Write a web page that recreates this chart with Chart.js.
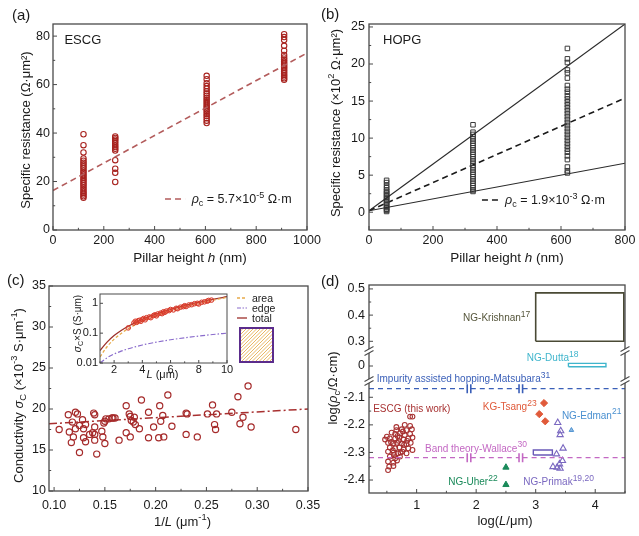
<!DOCTYPE html>
<html><head><meta charset="utf-8">
<script src="https://cdn.jsdelivr.net/npm/chart.js"></script>
<style>
html,body{margin:0;padding:0;background:#fff;width:639px;height:536px;overflow:hidden;}
canvas{position:absolute;}
</style></head><body>
<canvas id="ca" width="330" height="268" style="left:0;top:0;width:330px;height:268px"></canvas>
<canvas id="cb" width="319" height="268" style="left:320px;top:0;width:319px;height:268px"></canvas>
<canvas id="cc" width="330" height="268" style="left:0;top:268px;width:330px;height:268px"></canvas>
<canvas id="cd" width="319" height="268" style="left:320px;top:268px;width:319px;height:268px"></canvas>
<canvas id="ci" width="230" height="100" style="left:60px;top:285px;width:230px;height:100px"></canvas>
<script>
// ---------------- DATA ----------------
// (a) ESCG specific resistance vs pillar height
const escgHeights = [120, 245, 605, 910];
const escgRes120 = [39.5, 35.0, 32.0, 29.5, 28.6, 27.8, 27.0, 26.2, 25.5, 24.6, 23.8, 23.0, 22.3, 21.5, 20.7, 20.0, 19.2, 18.5, 17.6, 16.8, 16.0, 15.3, 14.6, 13.9, 13.3];
const escgRes245 = [38.6, 38.0, 37.3, 36.6, 35.8, 35.0, 34.2, 33.5, 32.8, 28.8, 25.3, 23.6, 19.8];
const escgRes605 = [63.6, 62.2, 60.6, 59.4, 58.3, 57.2, 56.3, 55.4, 54.5, 53.6, 52.8, 52.0, 51.2, 50.4, 49.6, 48.8, 47.9, 47.0, 46.1, 45.1, 44.1];
const escgRes910 = [80.8, 79.6, 78.4, 76.0, 74.0, 72.2, 71.2, 70.4, 69.6, 68.9, 68.2, 67.5, 66.8, 66.1, 65.4, 64.7, 64.0, 63.3, 62.6, 62.0];
const escgFitH = [0, 1000];
const escgFitR = [16.3, 73.0];
const aXTicks = [0, 200, 400, 600, 800, 1000];
const aXMinor = [100, 300, 500, 700, 900];
const aYTicks = [0, 20, 40, 60, 80];
const aYMinor = [10, 30, 50, 70];

// (b) HOPG
const hopgHeights = [55, 325, 620];
const hopgRes55 = [4.3, 4.0, 3.6, 3.3, 3.0, 2.8, 2.6, 2.4, 2.2, 2.0, 1.8, 1.6, 1.4, 1.2, 1.0, 0.8, 0.6, 0.4, 0.25, 0.1];
const hopgRes325 = [11.8, 10.8, 10.5, 10.2, 9.9, 9.6, 9.3, 9.0, 8.7, 8.4, 8.1, 7.8, 7.5, 7.2, 6.9, 6.6, 6.3, 6.0, 5.7, 5.4, 5.1, 4.8, 4.5, 4.2, 3.9, 3.6, 3.3, 3.0, 2.8];
const hopgRes620 = [22.1, 20.7, 20.2, 19.2, 18.8, 18.1, 17.1, 16.6, 16.2, 15.7, 15.3, 14.9, 14.5, 14.1, 13.7, 13.3, 12.9, 12.5, 12.1, 11.7, 11.3, 10.9, 10.5, 10.1, 9.7, 9.3, 8.9, 8.5, 8.1, 7.6, 7.1, 6.1, 5.6, 5.3];
const hopgFitH = [0, 800];
const hopgUpper = [0.2, 25.4];
const hopgMean = [0.2, 15.4];
const hopgLower = [0.2, 6.6];
const bXTicks = [0, 200, 400, 600, 800];
const bXMinor = [100, 300, 500, 700];
const bYTicks = [0, 5, 10, 15, 20, 25];
const bYMinor = [2.5, 7.5, 12.5, 17.5, 22.5];

// (c) conductivity vs 1/L
const cInvL = [0.105, 0.114, 0.115, 0.117, 0.118, 0.119, 0.121, 0.121, 0.123, 0.125, 0.125, 0.128, 0.129, 0.129, 0.131, 0.131, 0.135, 0.138, 0.139, 0.140, 0.140, 0.140, 0.140, 0.142, 0.147, 0.148, 0.149, 0.150, 0.150, 0.151, 0.154, 0.157, 0.158, 0.160, 0.164, 0.171, 0.171, 0.174, 0.175, 0.175, 0.176, 0.178, 0.179, 0.180, 0.184, 0.186, 0.193, 0.193, 0.198, 0.203, 0.204, 0.205, 0.207, 0.208, 0.212, 0.216, 0.230, 0.231, 0.230, 0.241, 0.251, 0.256, 0.258, 0.259, 0.260, 0.275, 0.281, 0.283, 0.286, 0.291, 0.294, 0.338];
const cSigma = [17.5, 19.3, 17.2, 15.9, 18.4, 16.6, 19.6, 17.6, 19.4, 14.7, 18.0, 18.7, 16.5, 17.6, 18.1, 16.0, 16.9, 17.1, 19.5, 19.3, 17.8, 16.9, 16.2, 14.5, 17.3, 16.6, 18.3, 18.5, 15.8, 18.8, 18.8, 18.9, 18.9, 18.9, 16.2, 20.4, 17.1, 19.4, 19.1, 16.6, 18.6, 18.4, 19.0, 18.1, 17.6, 21.1, 19.6, 16.5, 17.8, 16.5, 20.4, 18.5, 19.2, 16.6, 21.7, 17.9, 19.5, 19.4, 16.9, 16.6, 19.4, 20.5, 18.1, 17.5, 19.4, 19.6, 21.5, 18.2, 19.0, 22.8, 17.8, 17.5];
const cFitX = [0.095, 0.35];
const cFitY = [18.2, 20.0];
const cXTicks = [0.10, 0.15, 0.20, 0.25, 0.30, 0.35];
const cXMinor = [0.125, 0.175, 0.225, 0.275, 0.325];
const cYTicks = [10, 15, 20, 25, 30, 35];
const cYMinor = [12.5, 17.5, 22.5, 27.5, 32.5];

// (c) inset: sigma x S vs L
const insetCurveL = [1, 1.5, 2, 2.5, 3, 4, 5, 6, 7, 8, 9, 10];
const insetArea = [0.016, 0.035, 0.063, 0.098, 0.141, 0.25, 0.39, 0.56, 0.77, 1.0, 1.27, 1.57];
const insetEdge = [0.010, 0.015, 0.020, 0.025, 0.030, 0.040, 0.050, 0.060, 0.070, 0.080, 0.090, 0.100];
const insetTotal = [0.026, 0.050, 0.083, 0.123, 0.171, 0.29, 0.44, 0.62, 0.84, 1.08, 1.36, 1.67];
const insetPtL = [3.0, 3.4, 3.5, 3.6, 3.7, 3.8, 3.9, 4.0, 4.1, 4.2, 4.3, 4.5, 4.6, 4.8, 4.9, 5.0, 5.1, 5.3, 5.4, 5.5, 5.6, 5.7, 5.9, 6.0, 6.2, 6.4, 6.5, 6.7, 6.9, 7.0, 7.1, 7.3, 7.5, 7.7, 7.9, 8.0, 8.2, 8.4, 8.6, 8.7, 8.9];
const insetPtS = [0.15, 0.22, 0.25, 0.23, 0.26, 0.27, 0.25, 0.29, 0.31, 0.28, 0.33, 0.35, 0.33, 0.39, 0.41, 0.38, 0.44, 0.47, 0.45, 0.52, 0.50, 0.55, 0.57, 0.62, 0.60, 0.68, 0.66, 0.74, 0.77, 0.83, 0.78, 0.88, 0.90, 0.97, 1.00, 0.95, 1.08, 1.12, 1.18, 1.25, 1.28];
const iXTicks = [2, 4, 6, 8, 10];
const iXMinor = [1, 3, 5, 7, 9];
const iYTicks = [0.01, 0.1, 1];

// (d) log(rho) vs log(L)
const escgLogL = [0.89, 0.93, 0.80, 0.89, 0.66, 0.75, 0.83, 0.92, 0.58, 0.64, 0.72, 0.80, 0.89, 0.47, 0.50, 0.55, 0.64, 0.71, 0.78, 0.86, 0.93, 0.52, 0.61, 0.67, 0.75, 0.83, 0.90, 0.55, 0.64, 0.71, 0.78, 0.86, 0.93, 0.52, 0.61, 0.69, 0.76, 0.83, 0.55, 0.64, 0.72, 0.52, 0.61, 0.67, 0.54, 0.61, 0.52, 0.70, 0.79, 0.68, 0.60, 0.73, 0.57, 0.84, 0.66, 0.77, 0.62];
const escgLogRho = [-2.170, -2.170, -2.200, -2.204, -2.219, -2.216, -2.219, -2.216, -2.228, -2.233, -2.231, -2.237, -2.233, -2.253, -2.243, -2.249, -2.249, -2.246, -2.253, -2.249, -2.246, -2.265, -2.267, -2.265, -2.267, -2.270, -2.265, -2.282, -2.285, -2.282, -2.289, -2.285, -2.291, -2.297, -2.301, -2.303, -2.297, -2.303, -2.315, -2.321, -2.315, -2.333, -2.337, -2.329, -2.351, -2.349, -2.364, -2.258, -2.272, -2.240, -2.292, -2.300, -2.262, -2.258, -2.208, -2.224, -2.310];
const tsangLogL = [3.14, 3.06, 3.16];
const tsangLogRho = [-2.121, -2.161, -2.187];
const uherLogL = [2.50, 2.50];
const uherLogRho = [-2.354, -2.417];
const edmanLogL = [3.60];
const edmanLogRho = [-2.219];
const primakLogL = [3.37, 3.42, 3.41, 3.46, 3.35, 3.45, 3.40, 3.29, 3.36, 3.41];
const primakLogRho = [-2.192, -2.222, -2.236, -2.285, -2.306, -2.330, -2.342, -2.352, -2.354, -2.358];
const krishnanBoxL = [3.0, 4.48, 4.48, 3.0, 3.0];
const krishnanBoxRho = [0.30, 0.30, 0.485, 0.485, 0.30];
const duttaBoxL = [3.55, 4.18, 4.18, 3.55, 3.55];
const duttaBoxRho = [-0.003, -0.003, 0.010, 0.010, -0.003];
const wallaceBoxL = [2.96, 3.28, 3.28, 2.96, 2.96];
const wallaceBoxRho = [-2.309, -2.309, -2.291, -2.291, -2.309];
const matsubaraRho = -2.069;
const wallaceRho = -2.319;
const refLineSegments = [[0.2, 1.85], [1.91, 2.72], [2.78, 4.5]];
const dXTicks = [1, 2, 3, 4];
const dXMinor = [0.5, 1.5, 2.5, 3.5, 4.5];
const dTopTicks = [0.3, 0.4, 0.5];
const dTopMinor = [0.35, 0.45];
const dMidTicks = [0];
const dBotTicks = [-2.4, -2.3, -2.2, -2.1];
const dBotMinor = [-2.35, -2.25, -2.15];

// ---------------- HELPERS ----------------
const FONT = "'Liberation Sans', Arial, Helvetica, sans-serif";
Chart.defaults.font.family = FONT;
Chart.defaults.color = '#1a1a1a';
const COL_FRAME = '#4a4a4a';

function col(x, ys) { return ys.map(y => ({x: x, y: y})); }
function pair(xs, ys) { return xs.map((x, i) => ({x: x, y: ys[i]})); }
function hline(segs, y) {
  const out = [];
  segs.forEach((s, i) => {
    out.push({x: s[0], y: y}, {x: s[1], y: y});
    if (i < segs.length - 1) out.push({x: (s[1] + segs[i + 1][0]) / 2, y: null});
  });
  return out;
}

function drawRich(ctx, segs, x, y, opt) {
  const size = opt.size || 12, color = opt.color || '#1a1a1a';
  const small = opt.small || 0.72;
  const fontFor = f => (f.indexOf('i') >= 0 ? 'italic ' : '') + ((f.indexOf('^') >= 0 || f.indexOf('_') >= 0) ? size * small : size) + 'px ' + FONT;
  ctx.save();
  ctx.translate(x, y);
  if (opt.rot) ctx.rotate(opt.rot);
  let total = 0; const ws = [];
  segs.forEach(s => { ctx.font = fontFor(s[1] || ''); const w = ctx.measureText(s[0]).width; ws.push(w); total += w; });
  let cx = opt.align === 'center' ? -total / 2 : (opt.align === 'right' ? -total : 0);
  ctx.textAlign = 'left'; ctx.textBaseline = 'alphabetic'; ctx.fillStyle = color;
  const base = size * 0.36;
  segs.forEach((s, i) => {
    const f = s[1] || '';
    ctx.font = fontFor(f);
    let dy = base;
    if (f.indexOf('^') >= 0) dy -= size * 0.42;
    if (f.indexOf('_') >= 0) dy += size * 0.22;
    ctx.fillText(s[0], cx, dy);
    cx += ws[i];
  });
  ctx.restore();
}

function makeAxis(o) {
  const ax = {
    type: o.type || 'linear',
    position: o.position,
    min: o.min, max: o.max,
    grid: {display: false, drawTicks: false},
    border: {display: false},
    title: {display: false},
    ticks: {padding: o.pad, autoSkip: false, maxRotation: 0, minRotation: 0, color: '#1a1a1a',
      font: {size: o.fs || 12.5, family: FONT}, callback: o.fmt || (v => String(v))},
    afterBuildTicks: s => { s.ticks = o.major.map(v => ({value: v})); },
    afterFit: s => {
      if (s.isHorizontal()) s.height = o.size; else s.width = o.size;
      s.paddingLeft = 0; s.paddingRight = 0; s.paddingTop = 0; s.paddingBottom = 0;
    }
  };
  if (o.stack) { ax.stack = o.stack; ax.stackWeight = o.stackWeight; ax.weight = o.weight; }
  return ax;
}

function framePlugin(spec, extra, lw) {
  return {
    id: 'frameTicks',
    afterDraw(chart) {
      const ctx = chart.ctx, a = chart.chartArea;
      ctx.save();
      ctx.setLineDash([]);
      ctx.strokeStyle = COL_FRAME; ctx.lineWidth = lw || 1.3;
      ctx.strokeRect(a.left, a.top, a.right - a.left, a.bottom - a.top);
      ctx.lineWidth = 1;
      ctx.beginPath();
      for (const id in spec) {
        const s = chart.scales[id], sp = spec[id];
        const len = sp.len || 4;
        const mk = (v, l) => {
          const p = s.getPixelForValue(v);
          if (s.isHorizontal()) { ctx.moveTo(p, a.bottom); ctx.lineTo(p, a.bottom - l); }
          else { ctx.moveTo(a.left, p); ctx.lineTo(a.left + l, p); }
        };
        sp.major.forEach(v => mk(v, len));
        (sp.minor || []).forEach(v => mk(v, len * 0.55));
      }
      ctx.stroke();
      ctx.restore();
      if (extra) { ctx.save(); extra(chart, ctx); ctx.restore(); }
    }
  };
}

function dashSample(ctx, x0, x1, y, color, dash, w) {
  ctx.save(); ctx.strokeStyle = color; ctx.lineWidth = w; ctx.setLineDash(dash);
  ctx.beginPath(); ctx.moveTo(x0, y); ctx.lineTo(x1, y); ctx.stroke(); ctx.restore();
}

const baseOpts = {responsive: false, animation: false, events: [],
  plugins: {legend: {display: false}, tooltip: {enabled: false}}};

// ---------------- (a) ----------------
const colA = '#a8231f';
new Chart(document.getElementById('ca'), {
  type: 'scatter',
  data: {datasets: [
    {data: pair(escgFitH, escgFitR), showLine: true, borderColor: '#b35c5c', borderDash: [6, 4], borderWidth: 1.6, pointRadius: 0},
    {data: [].concat(col(escgHeights[0], escgRes120), col(escgHeights[1], escgRes245), col(escgHeights[2], escgRes605), col(escgHeights[3], escgRes910)),
      pointStyle: 'circle', pointRadius: 2.7, pointBorderColor: colA, pointBackgroundColor: 'rgba(255,255,255,0)', pointBorderWidth: 1.1}
  ]},
  options: Object.assign({}, baseOpts, {
    layout: {padding: {top: 24, right: 23, left: 0, bottom: 0}},
    scales: {
      x: makeAxis({position: 'bottom', min: 0, max: 1000, major: aXTicks, size: 38, pad: 3}),
      y: makeAxis({position: 'left', min: 0, max: 85, major: aYTicks, size: 53, pad: 3})
    }
  }),
  plugins: [framePlugin({x: {major: aXTicks, minor: aXMinor}, y: {major: aYTicks, minor: aYMinor}}, (chart, ctx) => {
    const sx = chart.scales.x, sy = chart.scales.y, a = chart.chartArea;
    drawRich(ctx, [['ESCG']], sx.getPixelForValue(45), sy.getPixelForValue(78.8), {size: 13});
    dashSample(ctx, sx.getPixelForValue(441), sx.getPixelForValue(520), sy.getPixelForValue(12.8), '#b35c5c', [6, 4], 1.6);
    drawRich(ctx, [['ρ', 'i'], ['c', '_'], [' = 5.7×10'], ['-5', '^'], [' Ω·m']], sx.getPixelForValue(546), sy.getPixelForValue(12.8), {size: 12.5});
    drawRich(ctx, [['Specific resistance (Ω·μm²)']], a.left - 28, (a.top + a.bottom) / 2 + 3, {size: 13, rot: -Math.PI / 2, align: 'center'});
    drawRich(ctx, [['Pillar height '], ['h', 'i'], [' (nm)']], (a.left + a.right) / 2 + 10, a.bottom + 27, {size: 13.5, align: 'center'});
    drawRich(ctx, [['(a)']], 12, 15, {size: 15});
  })]
});

// ---------------- (b) ----------------
new Chart(document.getElementById('cb'), {
  type: 'scatter',
  data: {datasets: [
    {data: pair(hopgFitH, hopgUpper), showLine: true, borderColor: '#2a2a2a', borderWidth: 1.1, pointRadius: 0},
    {data: pair(hopgFitH, hopgLower), showLine: true, borderColor: '#2a2a2a', borderWidth: 1.1, pointRadius: 0},
    {data: [].concat(col(hopgHeights[0], hopgRes55), col(hopgHeights[1], hopgRes325), col(hopgHeights[2], hopgRes620)),
      pointStyle: 'rect', pointRadius: 3.2, pointBorderColor: '#3a3a3a', pointBackgroundColor: 'rgba(255,255,255,0)', pointBorderWidth: 1},
    {data: pair(hopgFitH, hopgMean), showLine: true, borderColor: '#1a1a1a', borderDash: [6, 4], borderWidth: 1.6, pointRadius: 0}
  ]},
  options: Object.assign({}, baseOpts, {
    layout: {padding: {top: 24, right: 14, left: 0, bottom: 0}},
    scales: {
      x: makeAxis({position: 'bottom', min: 0, max: 800, major: bXTicks, size: 38, pad: 3}),
      y: makeAxis({position: 'left', min: -2.4, max: 25.4, major: bYTicks, size: 49, pad: 4})
    }
  }),
  plugins: [framePlugin({x: {major: bXTicks, minor: bXMinor}, y: {major: bYTicks, minor: bYMinor}}, (chart, ctx) => {
    const sx = chart.scales.x, sy = chart.scales.y, a = chart.chartArea;
    drawRich(ctx, [['HOPG']], sx.getPixelForValue(44), sy.getPixelForValue(23.4), {size: 13});
    dashSample(ctx, sx.getPixelForValue(353), sx.getPixelForValue(409), sy.getPixelForValue(1.65), '#1a1a1a', [6, 4], 1.6);
    drawRich(ctx, [['ρ', 'i'], ['c', '_'], [' = 1.9×10'], ['-3', '^'], [' Ω·m']], sx.getPixelForValue(425), sy.getPixelForValue(1.65), {size: 12.5});
    drawRich(ctx, [['Specific resistance (×10'], ['2', '^'], [' Ω·μm²)']], a.left - 34, (a.top + a.bottom) / 2 - 4, {size: 13, rot: -Math.PI / 2, align: 'center'});
    drawRich(ctx, [['Pillar height '], ['h', 'i'], [' (nm)']], (a.left + a.right) / 2 + 10, a.bottom + 27, {size: 13.5, align: 'center'});
    drawRich(ctx, [['(b)']], 1, 14, {size: 15});
  })]
});

// ---------------- (c) ----------------
const colC = '#a52a2a';
new Chart(document.getElementById('cc'), {
  type: 'scatter',
  data: {datasets: [
    {data: pair(cInvL, cSigma), pointStyle: 'circle', pointRadius: 3.1, pointBorderColor: colC, pointBackgroundColor: 'rgba(255,255,255,0)', pointBorderWidth: 1.2},
    {data: pair(cFitX, cFitY), showLine: true, borderColor: '#a83030', borderDash: [8, 3, 2, 3], borderWidth: 1.5, pointRadius: 0}
  ]},
  options: Object.assign({}, baseOpts, {
    layout: {padding: {top: 18, right: 22, left: 0, bottom: 0}},
    scales: {
      x: makeAxis({position: 'bottom', min: 0.095, max: 0.35, major: cXTicks, size: 45, pad: 7, fmt: v => v.toFixed(2)}),
      y: makeAxis({position: 'left', min: 10, max: 35, major: cYTicks, size: 49, pad: 3})
    }
  }),
  plugins: [framePlugin({x: {major: cXTicks, minor: cXMinor}, y: {major: cYTicks, minor: cYMinor}}, (chart, ctx) => {
    const a = chart.chartArea;
    drawRich(ctx, [['Conductivity '], ['σ', 'i'], ['C', '_'], [' (×10'], ['-3', '^'], [' S·μm'], ['-1', '^'], [')']], a.left - 31, (a.top + a.bottom) / 2 + 7, {size: 13, rot: -Math.PI / 2, align: 'center'});
    drawRich(ctx, [['1/'], ['L', 'i'], [' (μm'], ['-1', '^'], [')']], (a.left + a.right) / 2 + 4, a.bottom + 30, {size: 13, align: 'center'});
    drawRich(ctx, [['(c)']], 7, 12, {size: 15});
  })]
});

// ---------------- (c) inset ----------------
new Chart(document.getElementById('ci'), {
  type: 'scatter',
  data: {datasets: [
    {data: pair(insetCurveL, insetEdge), showLine: true, borderColor: '#8a6ccc', borderDash: [5, 2, 1.5, 2], borderWidth: 1.2, pointRadius: 0, cubicInterpolationMode: 'monotone'},
    {data: pair(insetPtL, insetPtS), pointStyle: 'circle', pointRadius: 2.3, pointBorderColor: '#d8392a', pointBackgroundColor: 'rgba(230,90,70,0.25)', pointBorderWidth: 1},
    {data: pair(insetCurveL, insetArea), showLine: true, borderColor: '#e8aa4a', borderDash: [3, 2], borderWidth: 1.3, pointRadius: 0, cubicInterpolationMode: 'monotone'},
    {data: pair(insetCurveL, insetTotal), showLine: true, borderColor: '#9c2f2a', borderWidth: 1.3, pointRadius: 0, cubicInterpolationMode: 'monotone'}
  ]},
  options: Object.assign({}, baseOpts, {
    layout: {padding: {top: 9, right: 63, left: 0, bottom: 0}},
    scales: {
      x: makeAxis({position: 'bottom', min: 1, max: 10, major: iXTicks, size: 22, pad: 0, fs: 11}),
      y: makeAxis({type: 'logarithmic', position: 'left', min: 0.01, max: 2.05, major: iYTicks, size: 40, pad: 2, fs: 11})
    }
  }),
  plugins: [{id: 'insetBg', beforeDraw(chart) { const c = chart.ctx, a = chart.chartArea; c.save(); c.fillStyle = '#fff'; c.fillRect(a.left, a.top, a.right - a.left, a.bottom - a.top); c.restore(); }},
    framePlugin({x: {major: iXTicks, minor: iXMinor, len: 3}, y: {major: iYTicks, len: 3}}, (chart, ctx) => {
    const a = chart.chartArea;
    drawRich(ctx, [['σ', 'i'], ['C', '_'], ['×S (S·μm)']], a.left - 23, (a.top + a.bottom) / 2 - 5, {size: 10, rot: -Math.PI / 2, align: 'center'});
    drawRich(ctx, [['L', 'i'], [' (μm)']], (a.left + a.right) / 2 - 1, a.bottom + 11, {size: 11, align: 'center'});
    const lx = a.right + 10;
    dashSample(ctx, lx, lx + 10, a.top + 4, '#e8aa4a', [3, 2], 1.3);
    dashSample(ctx, lx, lx + 10, a.top + 14, '#8a6ccc', [4, 1.5, 1.5, 1.5], 1.2);
    dashSample(ctx, lx, lx + 10, a.top + 24, '#9c2f2a', [], 1.3);
    drawRich(ctx, [['area']], lx + 15, a.top + 4, {size: 10.5});
    drawRich(ctx, [['edge']], lx + 15, a.top + 14, {size: 10.5});
    drawRich(ctx, [['total']], lx + 15, a.top + 24, {size: 10.5});
    const x0 = a.right + 13, y0 = a.top + 34, w = 33, h = 34;
    ctx.save(); ctx.beginPath(); ctx.rect(x0, y0, w, h); ctx.clip();
    ctx.fillStyle = '#fff'; ctx.fillRect(x0, y0, w, h);
    ctx.strokeStyle = '#e9b866'; ctx.lineWidth = 1;
    ctx.beginPath();
    for (let k = -h; k < w + h; k += 3.5) { ctx.moveTo(x0 + k, y0 + h); ctx.lineTo(x0 + k + h, y0); }
    ctx.stroke(); ctx.restore();
    ctx.strokeStyle = '#5b2c8c'; ctx.lineWidth = 2; ctx.strokeRect(x0, y0, w, h);
  }, 1)]
});

// ---------------- (d) ----------------
const dLabels = [
  {axis: 'yTop', x: 1.78, y: 0.39, color: '#55553a', t: 'NG-Krishnan', sup: '17'},
  {axis: 'yMid', x: 2.85, y: 0.031, color: '#3fb5cc', t: 'NG-Dutta', sup: '18'},
  {axis: 'yMid', x: 0.33, y: -0.046, color: '#3a5fb8', t: 'Impurity assisted hopping-Matsubara', sup: '31'},
  {axis: 'yBot', x: 0.27, y: -2.139, color: '#a83232', t: 'ESCG (this work)', sup: ''},
  {axis: 'yBot', x: 2.11, y: -2.132, color: '#e05a3a', t: 'KG-Tsang', sup: '23'},
  {axis: 'yBot', x: 3.44, y: -2.164, color: '#4a90d0', t: 'NG-Edman', sup: '21'},
  {axis: 'yBot', x: 1.14, y: -2.284, color: '#c368c3', t: 'Band theory-Wallace', sup: '30'},
  {axis: 'yBot', x: 1.53, y: -2.404, color: '#1a8a5a', t: 'NG-Uher', sup: '22'},
  {axis: 'yBot', x: 2.79, y: -2.404, color: '#7a68c0', t: 'NG-Primak', sup: '19,20'}
];
const colMats = '#3a5fb8', colWall = '#c368c3';
new Chart(document.getElementById('cd'), {
  type: 'scatter',
  data: {datasets: [
    {data: hline(refLineSegments, matsubaraRho), yAxisID: 'yBot', showLine: true, spanGaps: false, borderColor: colMats, borderDash: [5, 4], borderWidth: 1.3, pointRadius: 0},
    {data: hline(refLineSegments, wallaceRho), yAxisID: 'yBot', showLine: true, spanGaps: false, borderColor: colWall, borderDash: [5, 4], borderWidth: 1.3, pointRadius: 0},
    {data: pair(krishnanBoxL, krishnanBoxRho), yAxisID: 'yTop', showLine: true, borderColor: '#4a4a35', borderWidth: 1.6, pointRadius: 0},
    {data: pair(duttaBoxL, duttaBoxRho), yAxisID: 'yMid', showLine: true, borderColor: '#3fb5cc', borderWidth: 1.4, pointRadius: 0},
    {data: pair(wallaceBoxL, wallaceBoxRho), yAxisID: 'yBot', showLine: true, borderColor: '#6a5ab8', borderWidth: 1.4, pointRadius: 0},
    {data: pair(escgLogL, escgLogRho), yAxisID: 'yBot', pointStyle: 'circle', pointRadius: 2.4, pointBorderColor: '#a83232', pointBackgroundColor: 'rgba(255,255,255,0)', pointBorderWidth: 1.1},
    {data: pair(tsangLogL, tsangLogRho), yAxisID: 'yBot', pointStyle: 'rectRot', pointRadius: 3.6, pointBorderColor: '#e05a3a', pointBackgroundColor: '#e05a3a', pointBorderWidth: 1},
    {data: pair(uherLogL, uherLogRho), yAxisID: 'yBot', pointStyle: 'triangle', pointRadius: 3.6, pointBorderColor: '#1a8a5a', pointBackgroundColor: '#1a8a5a', pointBorderWidth: 1},
    {data: pair(edmanLogL, edmanLogRho), yAxisID: 'yBot', pointStyle: 'triangle', pointRadius: 2.6, pointBorderColor: '#4a90d0', pointBackgroundColor: 'rgba(74,144,208,0.6)', pointBorderWidth: 1},
    {data: pair(primakLogL, primakLogRho), yAxisID: 'yBot', pointStyle: 'triangle', pointRadius: 3.6, pointBorderColor: '#7a68c0', pointBackgroundColor: 'rgba(255,255,255,0)', pointBorderWidth: 1.1}
  ]},
  options: Object.assign({}, baseOpts, {
    layout: {padding: {top: 17, right: 14, left: 0, bottom: 0}},
    scales: {
      x: makeAxis({position: 'bottom', min: 0.2, max: 4.5, major: dXTicks, size: 43, pad: 5}),
      yTop: makeAxis({position: 'left', stack: 'y', stackWeight: 66, weight: 3, min: 0.263, max: 0.515, major: dTopTicks, size: 49, pad: 4}),
      yMid: makeAxis({position: 'left', stack: 'y', stackWeight: 30, weight: 2, min: -0.057, max: 0.057, major: dMidTicks, size: 49, pad: 4}),
      yBot: makeAxis({position: 'left', stack: 'y', stackWeight: 112, weight: 1, min: -2.447, max: -2.041, major: dBotTicks, size: 49, pad: 4})
    }
  }),
  plugins: [framePlugin({x: {major: dXTicks, minor: dXMinor}, yTop: {major: dTopTicks, minor: dTopMinor}, yMid: {major: dMidTicks}, yBot: {major: dBotTicks, minor: dBotMinor}}, (chart, ctx) => {
    const a = chart.chartArea, sx = chart.scales.x, yb = chart.scales.yBot;
    // axis breaks
    [chart.scales.yTop.bottom, chart.scales.yMid.bottom].forEach(by => {
      [a.left, a.right].forEach(bx => {
        ctx.fillStyle = '#fff'; ctx.fillRect(bx - 5, by - 2, 10, 4);
        ctx.strokeStyle = COL_FRAME; ctx.lineWidth = 1.1; ctx.setLineDash([]);
        ctx.beginPath();
        [-2, 2].forEach(off => { ctx.moveTo(bx - 4.5, by + off + 2.5); ctx.lineTo(bx + 4.5, by + off - 2.5); });
        ctx.stroke();
      });
    });
    // breaks on reference lines
    [[matsubaraRho, colMats], [wallaceRho, colWall]].forEach(([v, c]) => {
      const py = yb.getPixelForValue(v);
      ctx.strokeStyle = c; ctx.lineWidth = 1.6; ctx.beginPath();
      refLineSegments.forEach((s, i) => {
        if (i > 0) { const px = sx.getPixelForValue(s[0]); ctx.moveTo(px, py - 4.5); ctx.lineTo(px, py + 4.5); }
        if (i < refLineSegments.length - 1) { const px = sx.getPixelForValue(s[1]); ctx.moveTo(px, py - 4.5); ctx.lineTo(px, py + 4.5); }
      });
      ctx.stroke();
    });
    dLabels.forEach(l => {
      const segs = [[l.t]];
      if (l.sup) segs.push([l.sup, '^']);
      drawRich(ctx, segs, sx.getPixelForValue(l.x), chart.scales[l.axis].getPixelForValue(l.y), {size: 10, color: l.color, small: 0.85});
    });
    drawRich(ctx, [['log('], ['ρ', 'i'], ['c', '_'], ['/Ω·cm)']], a.left - 37, (a.top + a.bottom) / 2 - 1, {size: 13, rot: -Math.PI / 2, align: 'center'});
    drawRich(ctx, [['log('], ['L', 'i'], ['/μm)']], (a.left + a.right) / 2 + 8, a.bottom + 27, {size: 13, align: 'center'});
    drawRich(ctx, [['(d)']], 1, 13, {size: 15});
  })]
});
</script>
</body></html>
